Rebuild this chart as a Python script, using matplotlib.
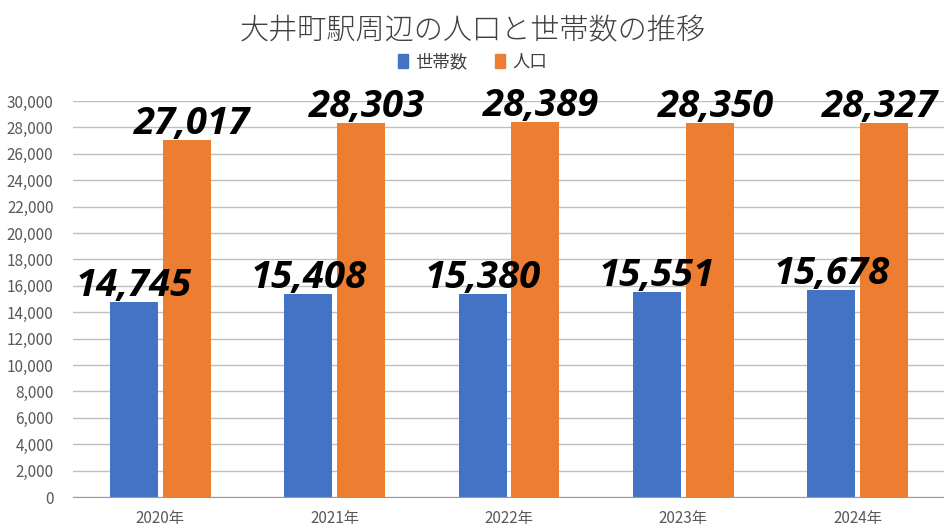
import matplotlib.pyplot as plt
from matplotlib.patches import Patch
from matplotlib.ticker import FuncFormatter

plt.rcParams['font.family'] = ['Noto Sans CJK JP', 'DejaVu Sans']

# data
years = ["2020年", "2021年", "2022年", "2023年", "2024年"]
households = [14745, 15408, 15380, 15551, 15678]
population = [27017, 28303, 28389, 28350, 28327]

BLUE = "#4472c4"
ORANGE = "#ed7d31"
GRAY = "#595959"

fig = plt.figure(figsize=(9.45, 5.32), dpi=100)
ax = fig.add_axes([73 / 945, 1 - 497 / 532, 872 / 945, 396 / 532])

x = list(range(len(years)))
w = 0.275
off = 0.151
b1 = ax.bar([i - off for i in x], households, width=w, color=BLUE, zorder=2)
b2 = ax.bar([i + off for i in x], population, width=w, color=ORANGE, zorder=2)

labels = []
for bars, vals, dx in ((b1, households, 0), (b2, population, 4.3)):
    for r, v in zip(bars, vals):
        t = ax.annotate(f"{v:,}", (r.get_x() + r.get_width() / 2, v),
                        xytext=(dx, 4.3), textcoords="offset points",
                        ha="center", va="baseline", fontsize=27.5,
                        fontweight="bold", style="italic", color="black",
                        family="Open Sans", zorder=3, annotation_clip=False)
        labels.append((t, dx))

ax.set_xlim(-0.5, len(years) - 0.5)
ax.set_ylim(0, 30000)
ax.set_yticks(range(0, 30001, 2000))
ax.yaxis.set_major_formatter(FuncFormatter(lambda v, p: f"{int(v):,}"))
ax.set_xticks(x)
ax.set_xticklabels(years)
ax.tick_params(axis="both", length=0, labelsize=11, colors=GRAY)
ax.tick_params(axis="y", pad=14)
ax.tick_params(axis="x", pad=9)
ax.grid(axis="y", color="#bfbfbf", linewidth=1, zorder=0)
for s in ("top", "right", "left"):
    ax.spines[s].set_visible(False)
ax.spines["bottom"].set_color("#9a9a9a")

fig.text(0.5, 1 - 31 / 532, "大井町駅周辺の人口と世帯数の推移", ha="center", va="center",
         fontsize=21, color="#404040", fontweight="light")
handles = [Patch(color=BLUE, label="世帯数"), Patch(color=ORANGE, label="人口")]
fig.legend(handles=handles, loc="center", bbox_to_anchor=(0.5, 1 - 62 / 532),
           ncol=2, frameon=False, fontsize=12.5, handlelength=0.6, handleheight=0.8,
           columnspacing=1.6, handletextpad=0.4, labelcolor="#404040")

# keep labels inside the chart area, like the spreadsheet does
renderer = fig.canvas.get_renderer()
limit = fig.bbox.width - 7
for t, dx in labels:
    bb = t.get_window_extent(renderer)
    if bb.x1 > limit:
        shift = (bb.x1 - limit) * 72 / fig.dpi
        t.set_position((dx - shift, 4.3))

fig.savefig("out.png", dpi=100)
